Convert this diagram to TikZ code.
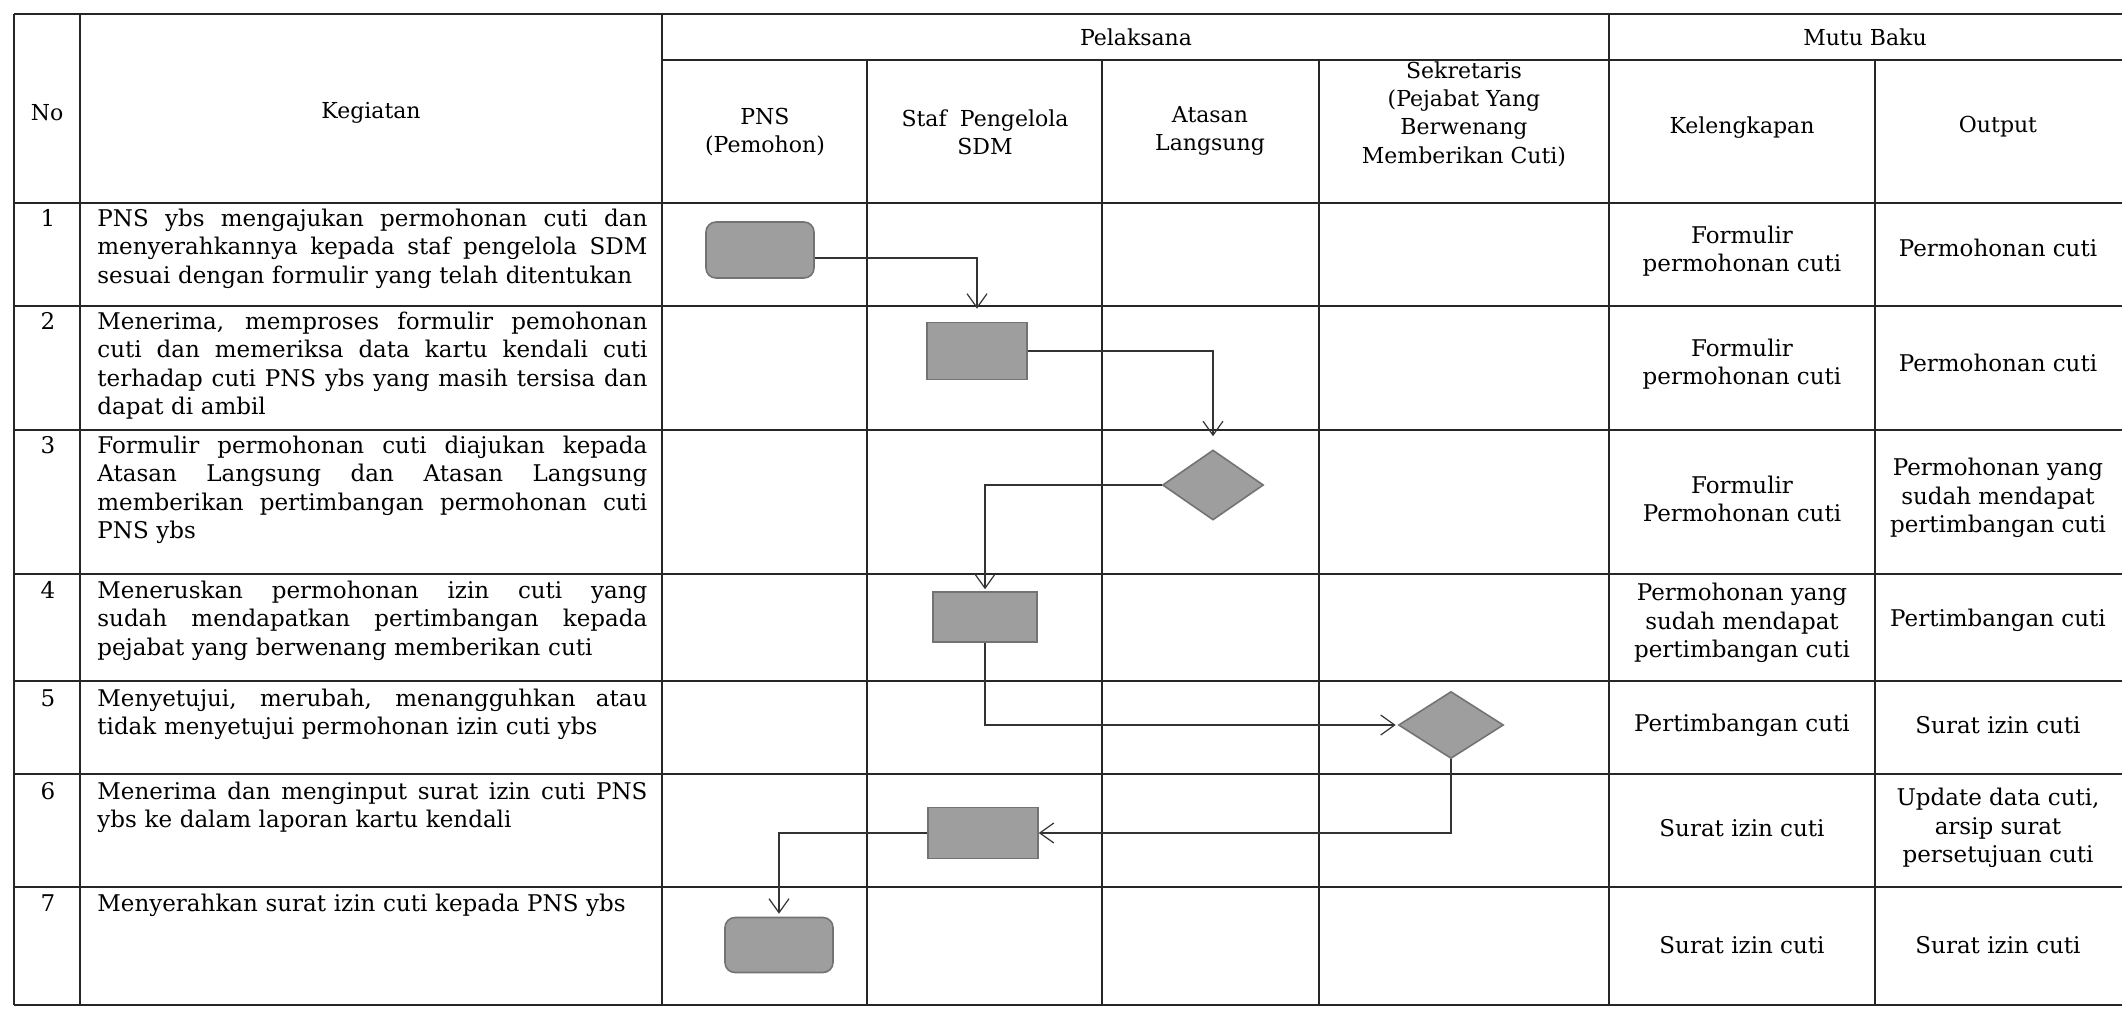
\documentclass[tikz,border=0pt]{standalone}
\usepackage{fontspec}
\setmainfont{DejaVu Serif}
\usetikzlibrary{arrows.meta,shapes.geometric}
\newcommand\jl[1]{\leavevmode\hbox to 275pt{\spaceskip=0.32em plus 1fil\relax\xspaceskip=\spaceskip #1}}
\begin{document}
\begin{tikzpicture}[x=0.5pt,y=-0.5pt,
  grid/.style={line width=0.9pt, draw=black!85},
  conn/.style={line width=0.6pt, draw=black!80, -{Straight Barb[length=7pt,width=10pt,line width=0.6pt]}},
  shp/.style={draw=black!55, fill=black!38, line width=0.8pt, inner sep=0},
  rbox/.style={shp, rounded corners=5pt},
  pbox/.style={shp},
  dec/.style={shp, diamond},
  keg/.style={anchor=north west, text width=275pt, align=left, inner sep=0, font=\fontsize{11.5}{14.2}\selectfont},
  num/.style={anchor=north, inner sep=0, font=\fontsize{11.5}{14.2}\selectfont},
  hd/.style={align=center, inner sep=0, font=\fontsize{11}{14.2}\selectfont},
  mb/.style={align=center, inner sep=0, font=\fontsize{11.5}{14.2}\selectfont}
]
\useasboundingbox (0,0) rectangle (2122,1008);
\fill[white] (0,0) rectangle (2122,1008);

% ---- table grid ----
\foreach \y in {14,203,306,430,574,681,774,887,1005}
  \draw[grid] (14,\y) -- (2122,\y);
\draw[grid] (662,60) -- (2122,60);
\foreach \x in {14,80,662,1609}
  \draw[grid] (\x,14) -- (\x,1005);
\foreach \x in {867,1102,1319,1875}
  \draw[grid] (\x,60) -- (\x,1005);

% ---- header ----
\node[hd] (hNo) at (47,113) {No};
\node[hd] (hKeg) at (371,113) {Kegiatan};
\node[hd] (hPel) at (1136,37) {Pelaksana};
\node[hd] (hMut) at (1865,37) {Mutu Baku};
\node[hd] (hPNS) at (765,132) {PNS\\(Pemohon)};
\node[hd] (hStaf) at (985,132) {Staf\hspace{0.6em}Pengelola\\SDM};
\node[hd] (hAtas) at (1210,131) {Atasan\\Langsung};
\node[hd] (hSek) at (1464,114) {Sekretaris\\(Pejabat Yang\\Berwenang\\Memberikan Cuti)};
\node[hd] (hKel) at (1742,128) {Kelengkapan};
\node[hd] (hOut) at (1998,127) {Output};

% ---- numbers ----
\node[num] (n1) at (48,206) {\strut 1};
\node[num] (n2) at (48,309) {\strut 2};
\node[num] (n3) at (48,433) {\strut 3};
\node[num] (n4) at (48,578) {\strut 4};
\node[num] (n5) at (48,686) {\strut 5};
\node[num] (n6) at (48,779) {\strut 6};
\node[num] (n7) at (48,891) {\strut 7};

% ---- kegiatan ----
\node[keg] (k1) at (97,206) {\strut\jl{PNS ybs mengajukan permohonan cuti dan}\\\jl{menyerahkannya kepada staf pengelola SDM}\\sesuai dengan formulir yang telah ditentukan};
\node[keg] (k2) at (97,309) {\strut\jl{Menerima, memproses formulir pemohonan}\\\jl{cuti dan memeriksa data kartu kendali cuti}\\\jl{terhadap cuti PNS ybs yang masih tersisa dan}\\dapat di ambil};
\node[keg] (k3) at (97,433) {\strut\jl{Formulir permohonan cuti diajukan kepada}\\\jl{Atasan Langsung dan Atasan Langsung}\\\jl{memberikan pertimbangan permohonan cuti}\\PNS ybs};
\node[keg] (k4) at (97,578) {\strut\jl{Meneruskan permohonan izin cuti yang}\\\jl{sudah mendapatkan pertimbangan kepada}\\pejabat yang berwenang memberikan cuti};
\node[keg] (k5) at (97,686) {\strut\jl{Menyetujui, merubah, menangguhkan atau}\\tidak menyetujui permohonan izin cuti ybs};
\node[keg] (k6) at (97,779) {\strut\jl{Menerima dan menginput surat izin cuti PNS}\\ybs ke dalam laporan kartu kendali};
\node[keg] (k7) at (97,891) {\strut Menyerahkan surat izin cuti kepada PNS ybs};

% ---- mutu baku ----
\node[mb] (m1a) at (1742,251) {Formulir\\permohonan cuti};
\node[mb] (m1b) at (1998,248) {Permohonan cuti};
\node[mb] (m2a) at (1742,364) {Formulir\\permohonan cuti};
\node[mb] (m2b) at (1998,363) {Permohonan cuti};
\node[mb] (m3a) at (1742,499) {Formulir\\Permohonan cuti};
\node[mb] (m3b) at (1998,498) {Permohonan yang\\sudah mendapat\\pertimbangan cuti};
\node[mb] (m4a) at (1742,623) {Permohonan yang\\sudah mendapat\\pertimbangan cuti};
\node[mb] (m4b) at (1998,620) {Pertimbangan cuti};
\node[mb] (m5a) at (1742,725) {Pertimbangan cuti};
\node[mb] (m5b) at (1998,725) {Surat izin cuti};
\node[mb] (m6a) at (1742,828) {Surat izin cuti};
\node[mb] (m6b) at (1998,828) {Update data cuti,\\arsip surat\\persetujuan cuti};
\node[mb] (m7a) at (1742,945) {Surat izin cuti};
\node[mb] (m7b) at (1998,945) {Surat izin cuti};

% ---- flow shapes ----
\node[rbox, minimum width=54pt, minimum height=28pt] (s1) at (760,250) {};
\node[pbox, minimum width=50pt, minimum height=28.5pt] (s2) at (977,351) {};
\node[dec, minimum width=50.5pt, minimum height=35pt] (s3) at (1213,485) {};
\node[pbox, minimum width=52pt, minimum height=25pt] (s4) at (985,617) {};
\node[dec, minimum width=52.5pt, minimum height=33.5pt] (s5) at (1451,725) {};
\node[pbox, minimum width=55pt, minimum height=25.5pt] (s6) at (983,833) {};
\node[rbox, minimum width=54pt, minimum height=27.5pt] (s7) at (779,945) {};

% ---- connectors ----
\draw[conn, shorten >=6.5pt] ([yshift=-4pt]s1.east) -| (s2.north);
\draw[conn, shorten >=6.5pt] (s2.east) -| (s3.north);
\draw[conn, shorten >=1pt] (s3.west) -| (s4.north);
\draw[conn, shorten >=1pt] (s4.south) |- (s5.west);
\draw[conn] (s5.south) |- (s6.east);
\draw[conn, shorten >=1.5pt] (s6.west) -| (s7.north);
\end{tikzpicture}
\end{document}
